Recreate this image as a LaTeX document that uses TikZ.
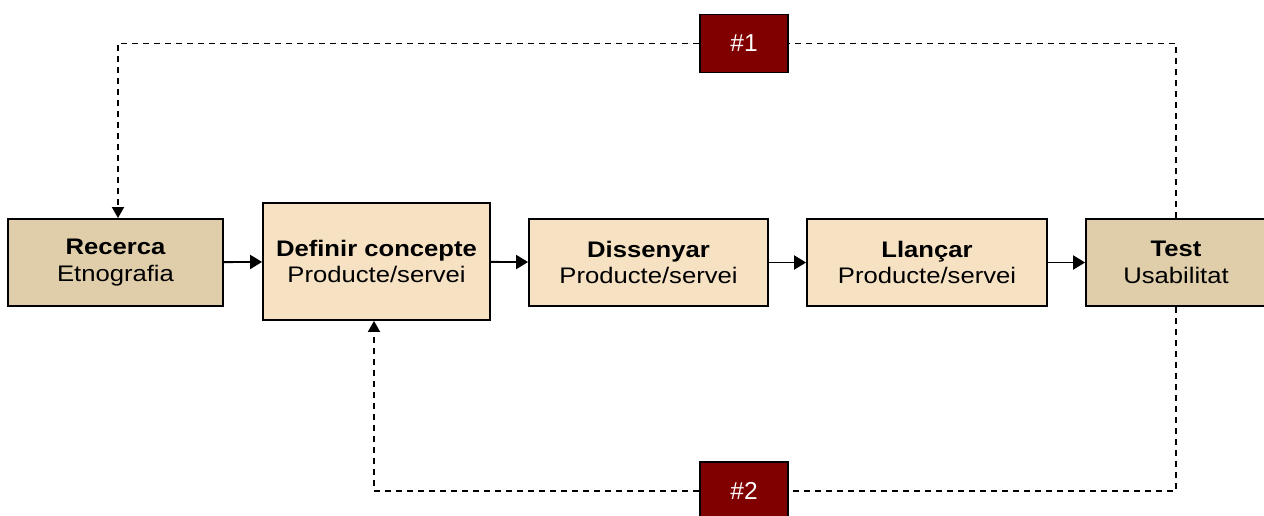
\documentclass[tikz,border=0pt]{standalone}
\usepackage{fontspec}
\setmainfont{Liberation Sans}[FakeStretch=1.14]
\newfontfamily\tagfont{Liberation Sans}
\usetikzlibrary{arrows.meta}
\definecolor{tandark}{RGB}{224,206,171}
\definecolor{tanlight}{RGB}{246,226,194}
\definecolor{darkred}{RGB}{128,0,0}
\tikzset{
  stage/.style={draw=black, line width=1.8pt, rectangle, align=center, inner sep=0pt,
    font=\fontsize{22.5}{26.8}\selectfont},
  darkstage/.style={stage, fill=tandark},
  lightstage/.style={stage, fill=tanlight},
  tag/.style={draw=black, line width=1.8pt, fill=darkred, text=white, rectangle,
    minimum width=88pt, minimum height=58pt, inner sep=0pt, font=\tagfont\fontsize{24.5}{28}\selectfont},
  flow/.style={line width=1.9pt, -{Triangle[length=12pt,width=14pt]}},
  loop/.style={line width=1.8pt, dash pattern=on 6pt off 5pt},
  looparrow/.style={loop, -{Triangle[length=11pt,width=12pt]}}
}
\begin{document}
\begin{tikzpicture}
\useasboundingbox (0pt,0pt) rectangle (1264pt,-516pt);
\node[darkstage, minimum width=215pt, minimum height=87pt] (rec) at (115.5pt,-262.5pt) {\textbf{Recerca}\\Etnografia};
\node[lightstage, minimum width=227pt, minimum height=117pt] (def) at (376.5pt,-261.5pt) {\textbf{Definir concepte}\\Producte/servei};
\node[lightstage, minimum width=239pt, minimum height=87pt] (dis) at (648.5pt,-262.5pt) {\textbf{Dissenyar}\\Producte/servei};
\node[lightstage, minimum width=240pt, minimum height=87pt] (lla) at (927pt,-262.5pt) {\textbf{Llançar}\\Producte/servei};
\node[darkstage, minimum width=180pt, minimum height=87pt] (test) at (1176pt,-262.5pt) {\textbf{Test}\\Usabilitat};
\node[tag] (n1) at (744pt,-43.5pt) {\#1};
\node[tag] (n2) at (744pt,-491pt) {\#2};
\draw[flow] (rec) -- (def);
\draw[flow] (def) -- (dis);
\draw[flow] (dis) -- (lla);
\draw[flow] (lla) -- (test);
\draw[loop] (test.north) |- (n1.east);
\draw[looparrow] (n1.west) -| ([xshift=2.5pt]rec.north);
\draw[loop] (test.south) |- (n2.east);
\draw[looparrow] (n2.west) -| ([xshift=-2.5pt]def.south);
\end{tikzpicture}
\end{document}
